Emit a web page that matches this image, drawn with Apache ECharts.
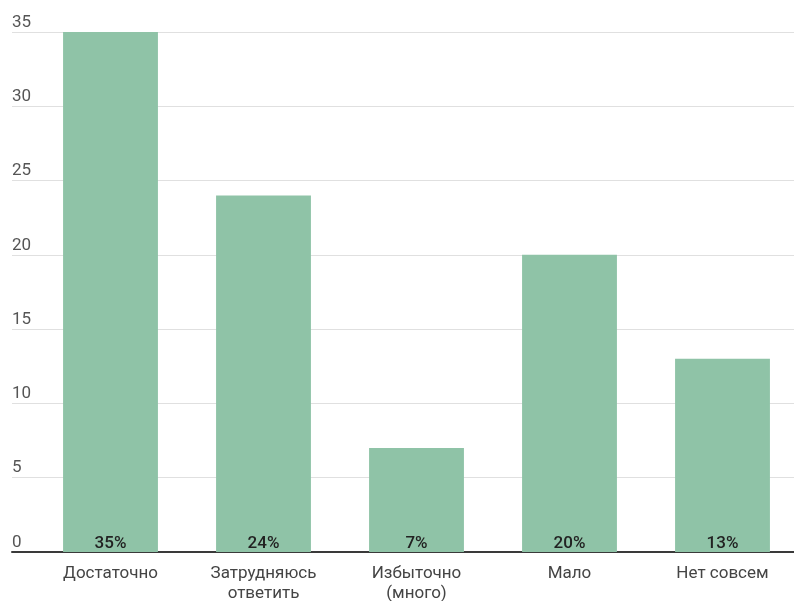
<!DOCTYPE html>
<html><head><meta charset="utf-8">
<script src="https://cdn.jsdelivr.net/npm/echarts@6/dist/echarts.min.js"></script>
<style>html,body{margin:0;padding:0;background:#fff;}#c{width:794px;height:601px;}</style>
</head><body><div id="c"></div>
<script>
const categories = ['Достаточно', 'Затрудняюсь\nответить', 'Избыточно\n(много)', 'Мало', 'Нет совсем'];
const values = [35, 24, 7, 20, 13];
const percentLabels = ['35%', '24%', '7%', '20%', '13%'];

const chart = echarts.init(document.getElementById('c'), null, {renderer: 'canvas'});
const font = 'Roboto, "Noto Sans", sans-serif';
chart.setOption({
  animation: false,
  backgroundColor: '#fff',
  grid: [
    {left: 12, right: 0, top: 32, bottom: 49, outerBoundsMode: 'none'},
    {left: 34, width: 765, top: 32, bottom: 49, outerBoundsMode: 'none'}
  ],
  xAxis: [
    {gridIndex: 0, type: 'value', min: 0, max: 1,
     axisLine: {show: true, lineStyle: {color: '#3a3a3a', width: 2}},
     axisTick: {show: false}, axisLabel: {show: false}, splitLine: {show: false}},
    {gridIndex: 1, type: 'category', data: categories,
     axisLine: {show: false}, axisTick: {show: false},
     axisLabel: {color: '#444', fontSize: 17, fontFamily: font, margin: 12, lineHeight: 20, interval: 0}}
  ],
  yAxis: [
    {gridIndex: 0, type: 'value', min: 0, max: 35, interval: 5,
     axisLine: {show: false}, axisTick: {show: false},
     axisLabel: {inside: true, margin: 0, align: 'left', verticalAlign: 'bottom', padding: [0, 0, 1, 0],
                 color: '#555', fontSize: 17, fontFamily: font},
     splitLine: {show: true, lineStyle: {color: '#e0e0e0', width: 1}}},
    {gridIndex: 1, type: 'value', min: 0, max: 35, interval: 5, show: false}
  ],
  series: [{
    type: 'bar', xAxisIndex: 1, yAxisIndex: 1,
    data: values, barCategoryGap: '38%',
    itemStyle: {color: '#8fc3a7'},
    label: {show: true, position: 'insideBottom', distance: 0,
            formatter: p => percentLabels[p.dataIndex],
            color: '#222', fontSize: 17, fontWeight: 500, fontFamily: font}
  }]
});
</script></body></html>
